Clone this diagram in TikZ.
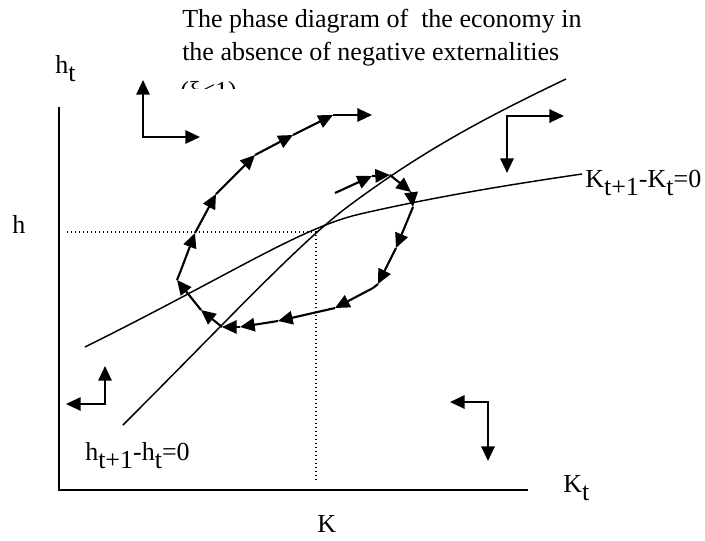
\documentclass[tikz,border=0pt]{standalone}
\usepackage{fontspec}
\setmainfont{Liberation Serif}
\usetikzlibrary{arrows.meta}

% subscripts as the picture sets them: same size, lowered
\newcommand{\lowsub}[1]{\raisebox{-6pt}{#1}}

\tikzset{
  axis/.style={line width=1.7pt},
  locus/.style={line width=1.1pt},
  guide/.style={line width=1pt, dotted},
  orbit/.style={line width=1.6pt, -{Triangle[length=11pt,width=10pt]}},
  motion/.style={line width=1.5pt, {Triangle[length=11pt,width=10pt]}-{Triangle[length=11pt,width=10pt]}},
  lbl/.style={anchor=base west, inner sep=0pt, font=\fontsize{19.5}{23}\selectfont}
}

\begin{document}
\begin{tikzpicture}[x=0.75pt,y=0.75pt,yscale=-1,xscale=1]
\useasboundingbox (0,0) rectangle (705,540);

%Axes
\coordinate (origin) at (59,490);
\coordinate (htop) at (59,107);
\coordinate (kend) at (528,490);
\draw [axis] (htop) -- (origin) -- (kend);

%Dotted guides to the steady state
\coordinate (hmark) at (67,232);
\coordinate (ss) at (316,232);
\coordinate (kmark) at (316,480);
\draw [guide] (hmark) -- (ss) -- (kmark);

%Curve: K_{t+1}-K_t=0
\draw [locus] (85,347) .. controls (230,275) and (300,228) .. (360,214) .. controls (430,198) and (500,186) .. (582,174);
%Curve: h_{t+1}-h_t=0
\draw [locus] (123,425) .. controls (230,318) and (300,242) .. (350,205) .. controls (420,153) and (480,120) .. (566,79);

%Orbit points
\coordinate (p0) at (335,193);
\coordinate (p1) at (372,176);
\coordinate (p2) at (390,175);
\coordinate (p3) at (411,192);
\coordinate (p4) at (413,207);
\coordinate (p5) at (396,248);
\coordinate (p6) at (378,284);
\coordinate (p7) at (373,288);
\coordinate (p8) at (335,308);
\coordinate (p9) at (278,321);
\coordinate (p10) at (240,327);
\coordinate (p11) at (222,327);
\coordinate (p12) at (201,310);
\coordinate (p13) at (177,280);
\coordinate (p14) at (181,270);
\coordinate (p15) at (195,233);
\coordinate (p16) at (216,194);
\coordinate (p17) at (255,155);
\coordinate (p18) at (293,135);
\coordinate (p19) at (333,115);
\coordinate (p20) at (372,115);

%Orbit: inner part
\draw [orbit] (p0) -- (p1);
\draw [orbit] (p1) -- (p2);
\draw [orbit] (p2) -- (p3);
\draw [orbit] (p3) -- (p4);
\draw [orbit] (p4) -- (p5);
\draw [orbit] (p5) -- (p6);
\draw [orbit,-] (p6) -- (p7);
%Orbit: lower part
\draw [orbit] (p7) -- (p8);
\draw [orbit] (p8) -- (p9);
\draw [orbit] (p9) -- (p10);
\draw [orbit] (p10) -- (p11);
\draw [orbit] (p11) -- (p12);
\draw [orbit] (p12) -- (p13);
\draw [orbit,-] (p13) -- (p14);
%Orbit: outer part
\draw [orbit] (p14) -- (p15);
\draw [orbit] (p15) -- (p16);
\draw [orbit] (p16) -- (p17);
\draw [orbit] (p17) -- (p18);
\draw [orbit] (p18) -- (p19);
\draw [orbit] (p19) -- (p20);

%Direction arrows
\coordinate (nwup) at (143,80);
\coordinate (nwright) at (200,137);
\draw [motion] (nwup) |- (nwright);
\coordinate (nedown) at (507,173);
\coordinate (neright) at (564,116);
\draw [motion] (nedown) |- (neright);
\coordinate (swup) at (105,366);
\coordinate (swleft) at (66,404);
\draw [motion] (swup) |- (swleft);
\coordinate (sedown) at (488,461);
\coordinate (seleft) at (450,402);
\draw [motion] (sedown) |- (seleft);

% Text Node
\node [lbl] (title1) at (182,27) {The phase diagram of\ \ the economy in};
% Text Node
\node [lbl] (title2) at (182,60) {the absence of negative externalities};
% Text Node
\begin{scope}
\clip (170,60) rectangle (300,88);
\node [lbl] (title3) at (180,99) {(ξ<1)};
\end{scope}
% Text Node
\node [lbl] (hlabel) at (55,73) {h\lowsub{t}};
% Text Node
\node [lbl] (hss) at (12,233) {h};
% Text Node
\node [lbl] (klabel) at (563,492) {K\lowsub{t}};
% Text Node
\node [lbl] (kss) at (317,532) {K};
% Text Node
\node [lbl] (kloc) at (585,187) {K\lowsub{t+1}-K\lowsub{t}=0};
% Text Node
\node [lbl] (hloc) at (85,460) {h\lowsub{t+1}-h\lowsub{t}=0};

\end{tikzpicture}
\end{document}
